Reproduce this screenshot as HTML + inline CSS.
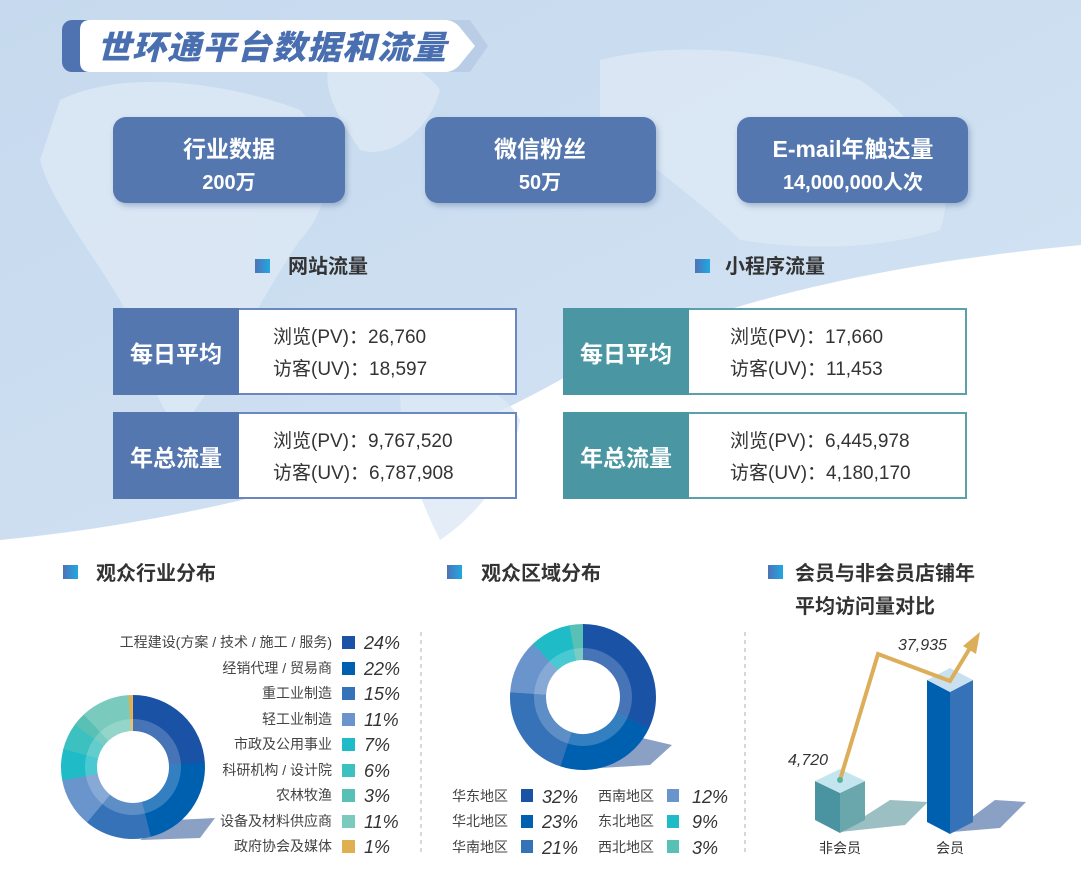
<!DOCTYPE html>
<html><head><meta charset="utf-8"><style>
body{margin:0;width:1081px;height:885px;overflow:hidden;background:#fff;font-family:"Liberation Sans","Noto Sans CJK SC",sans-serif}
</style></head><body>
<svg width="1081" height="885" viewBox="0 0 1081 885" xmlns="http://www.w3.org/2000/svg" font-family="Liberation Sans, Noto Sans CJK SC, sans-serif">
<defs>
<linearGradient id="bg" x1="0" y1="0" x2="1" y2="1"><stop offset="0" stop-color="#c6d9ee"/><stop offset="1" stop-color="#d3e4f3"/></linearGradient>
<linearGradient id="sq" x1="0" y1="0" x2="1" y2="0"><stop offset="0" stop-color="#4f72b8"/><stop offset="1" stop-color="#1fa9e0"/></linearGradient>
<filter id="sh" x="-10%" y="-10%" width="130%" height="140%"><feDropShadow dx="2" dy="3" stdDeviation="3" flood-color="#3a5a8a" flood-opacity="0.35"/></filter>
</defs>
<rect width="1081" height="885" fill="#fff"/>
<path d="M0 0H1081V245C900 262 700 300 560 380C400 470 200 520 0 540Z" fill="url(#bg)"/>
<g fill="#dde9f5" opacity="0.8">
<path d="M60 100C120 70 220 80 300 110C340 150 330 210 300 240C260 300 220 380 180 430C150 400 140 340 120 300C90 250 50 200 40 160Z"/>
<path d="M330 60C370 50 420 60 440 90C430 130 390 160 360 150C340 120 320 90 330 60Z"/>
<path d="M600 60C680 40 780 50 860 80C920 120 960 180 940 230C880 250 800 250 740 240C700 200 640 160 600 120Z"/>
<path d="M400 390C440 370 500 380 520 420C510 480 470 520 440 540C420 500 400 450 400 390Z"/>
</g>
<!-- title banner -->
<path d="M70 20H470L488 46L470 72H70Z" fill="#b9cde6"/>
<rect x="62" y="20" width="40" height="52" rx="10" fill="#4f72b0"/>
<path d="M90 20H445Q455 20 462 30L475 46L462 62Q455 72 445 72H90Q80 72 80 62V30Q80 20 90 20Z" fill="#fff"/>
<text x="97" y="59" font-size="33" font-weight="900" font-style="italic" fill="#4a6fb0" letter-spacing="1" textLength="350" lengthAdjust="spacingAndGlyphs">世环通平台数据和流量</text>
<!-- top boxes -->
<g filter="url(#sh)" fill="#5577b0">
<rect x="113" y="117" width="232" height="86" rx="13"/>
<rect x="425" y="117" width="231" height="86" rx="13"/>
<rect x="737" y="117" width="231" height="86" rx="13"/>
</g>
<g fill="#fff" font-weight="700" text-anchor="middle">
<text x="229" y="157" font-size="23">行业数据</text><text x="229" y="189" font-size="20">200万</text>
<text x="540" y="157" font-size="23">微信粉丝</text><text x="540" y="189" font-size="20">50万</text>
<text x="853" y="157" font-size="23">E-mail年触达量</text><text x="853" y="189" font-size="20">14,000,000人次</text>
</g>
<!-- section heads -->
<rect x="255" y="259" width="15" height="14" fill="url(#sq)"/>
<text x="288" y="273" font-size="20" font-weight="700" fill="#333">网站流量</text>
<rect x="695" y="259" width="15" height="14" fill="url(#sq)"/>
<text x="725" y="273" font-size="20" font-weight="700" fill="#333">小程序流量</text>
<!-- tables -->
<g font-size="19" fill="#333">
<rect x="238" y="309" width="278" height="85" fill="#fff" stroke="#6a88bf" stroke-width="2"/>
<rect x="113" y="308" width="126" height="87" fill="#5577b0"/>
<text x="176" y="362" font-size="23" font-weight="700" fill="#fff" text-anchor="middle">每日平均</text>
<text x="273" y="343">浏览(PV)：26,760</text><text x="273" y="375">访客(UV)：18,597</text>
<rect x="238" y="413" width="278" height="85" fill="#fff" stroke="#6a88bf" stroke-width="2"/>
<rect x="113" y="412" width="126" height="87" fill="#5577b0"/>
<text x="176" y="466" font-size="23" font-weight="700" fill="#fff" text-anchor="middle">年总流量</text>
<text x="273" y="447">浏览(PV)：9,767,520</text><text x="273" y="479">访客(UV)：6,787,908</text>
<rect x="688" y="309" width="278" height="85" fill="#fff" stroke="#5aa1ab" stroke-width="2"/>
<rect x="563" y="308" width="126" height="87" fill="#4a97a3"/>
<text x="626" y="362" font-size="23" font-weight="700" fill="#fff" text-anchor="middle">每日平均</text>
<text x="730" y="343">浏览(PV)：17,660</text><text x="730" y="375">访客(UV)：11,453</text>
<rect x="688" y="413" width="278" height="85" fill="#fff" stroke="#5aa1ab" stroke-width="2"/>
<rect x="563" y="412" width="126" height="87" fill="#4a97a3"/>
<text x="626" y="466" font-size="23" font-weight="700" fill="#fff" text-anchor="middle">年总流量</text>
<text x="730" y="447">浏览(PV)：6,445,978</text><text x="730" y="479">访客(UV)：4,180,170</text>
</g>
<!-- bottom heads -->
<rect x="63" y="565" width="15" height="14" fill="url(#sq)"/>
<text x="96" y="580" font-size="20" font-weight="700" fill="#333">观众行业分布</text>
<rect x="447" y="565" width="15" height="14" fill="url(#sq)"/>
<text x="481" y="580" font-size="20" font-weight="700" fill="#333">观众区域分布</text>
<rect x="768" y="565" width="15" height="14" fill="url(#sq)"/>
<text x="795" y="580" font-size="20" font-weight="700" fill="#333">会员与非会员店铺年</text>
<text x="795" y="613" font-size="20" font-weight="700" fill="#333">平均访问量对比</text>
<g stroke="#ccc" stroke-dasharray="4 4" stroke-width="1.5"><line x1="421" y1="632" x2="421" y2="855"/><line x1="745" y1="632" x2="745" y2="855"/></g>
<!-- donut 1 -->
<path d="M175 820L215 818L200 838L140 840Z" fill="#8aa0c4"/>
<g fill="none" stroke-width="36">
<circle cx="133" cy="767" r="54" pathLength="100" stroke="#1a52a5" stroke-dasharray="24.1 200" transform="rotate(-90 133 767)"/>
<circle cx="133" cy="767" r="54" pathLength="100" stroke="#0060b0" stroke-dasharray="22.1 200" transform="rotate(-3.6 133 767)"/>
<circle cx="133" cy="767" r="54" pathLength="100" stroke="#3672b8" stroke-dasharray="15.1 200" transform="rotate(75.6 133 767)"/>
<circle cx="133" cy="767" r="54" pathLength="100" stroke="#6a94cc" stroke-dasharray="11.1 200" transform="rotate(129.6 133 767)"/>
<circle cx="133" cy="767" r="54" pathLength="100" stroke="#1fbcc8" stroke-dasharray="7.1 200" transform="rotate(169.2 133 767)"/>
<circle cx="133" cy="767" r="54" pathLength="100" stroke="#3cc0c0" stroke-dasharray="6.1 200" transform="rotate(194.4 133 767)"/>
<circle cx="133" cy="767" r="54" pathLength="100" stroke="#58c0b4" stroke-dasharray="3.1 200" transform="rotate(216 133 767)"/>
<circle cx="133" cy="767" r="54" pathLength="100" stroke="#7acbbd" stroke-dasharray="11.1 200" transform="rotate(226.8 133 767)"/>
<circle cx="133" cy="767" r="54" pathLength="100" stroke="#e0b050" stroke-dasharray="1 200" transform="rotate(266.4 133 767)"/>
</g>
<circle cx="133" cy="767" r="42" fill="none" stroke="#fff" stroke-opacity="0.2" stroke-width="12"/>
<g font-size="14" fill="#444" text-anchor="end">
<text x="332" y="647">工程建设(方案 / 技术 / 施工 / 服务)</text><text x="332" y="673">经销代理 / 贸易商</text><text x="332" y="698">重工业制造</text><text x="332" y="724">轻工业制造</text><text x="332" y="749">市政及公用事业</text><text x="332" y="775">科研机构 / 设计院</text><text x="332" y="800">农林牧渔</text><text x="332" y="826">设备及材料供应商</text><text x="332" y="851">政府协会及媒体</text>
</g>
<g>
<rect x="342" y="636" width="13" height="13" fill="#1a52a5"/><rect x="342" y="662" width="13" height="13" fill="#0060b0"/><rect x="342" y="687" width="13" height="13" fill="#3672b8"/><rect x="342" y="713" width="13" height="13" fill="#6a94cc"/><rect x="342" y="738" width="13" height="13" fill="#1fbcc8"/><rect x="342" y="764" width="13" height="13" fill="#3cc0c0"/><rect x="342" y="789" width="13" height="13" fill="#58c0b4"/><rect x="342" y="815" width="13" height="13" fill="#7acbbd"/><rect x="342" y="840" width="13" height="13" fill="#e0b050"/>
</g>
<g font-size="18" font-style="italic" fill="#333">
<text x="364" y="649">24%</text><text x="364" y="675">22%</text><text x="364" y="700">15%</text><text x="364" y="726">11%</text><text x="364" y="751">7%</text><text x="364" y="777">6%</text><text x="364" y="802">3%</text><text x="364" y="828">11%</text><text x="364" y="853">1%</text>
</g>
<!-- donut 2 -->
<path d="M630 735L672 745L650 765L600 768Z" fill="#8aa0c4"/>
<g fill="none" stroke-width="36">
<circle cx="583" cy="697" r="55" pathLength="100" stroke="#1a52a5" stroke-dasharray="32.1 200" transform="rotate(-90 583 697)"/>
<circle cx="583" cy="697" r="55" pathLength="100" stroke="#0060b0" stroke-dasharray="23.1 200" transform="rotate(25.2 583 697)"/>
<circle cx="583" cy="697" r="55" pathLength="100" stroke="#3672b8" stroke-dasharray="21.1 200" transform="rotate(108 583 697)"/>
<circle cx="583" cy="697" r="55" pathLength="100" stroke="#6a94cc" stroke-dasharray="12.1 200" transform="rotate(183.6 583 697)"/>
<circle cx="583" cy="697" r="55" pathLength="100" stroke="#1fbcc8" stroke-dasharray="9.1 200" transform="rotate(226.8 583 697)"/>
<circle cx="583" cy="697" r="55" pathLength="100" stroke="#58c0b4" stroke-dasharray="3 200" transform="rotate(259.2 583 697)"/>
</g>
<circle cx="583" cy="697" r="43" fill="none" stroke="#fff" stroke-opacity="0.2" stroke-width="12"/>
<g font-size="14" fill="#444">
<text x="452" y="801">华东地区</text><text x="452" y="826">华北地区</text><text x="452" y="852">华南地区</text>
<text x="598" y="801">西南地区</text><text x="598" y="826">东北地区</text><text x="598" y="852">西北地区</text>
</g>
<rect x="521" y="789" width="12" height="13" fill="#1a52a5"/><rect x="521" y="815" width="12" height="13" fill="#0060b0"/><rect x="521" y="840" width="12" height="13" fill="#3672b8"/>
<rect x="667" y="789" width="12" height="13" fill="#6a94cc"/><rect x="667" y="815" width="12" height="13" fill="#1fbcc8"/><rect x="667" y="840" width="12" height="13" fill="#58c0b4"/>
<g font-size="18" font-style="italic" fill="#333">
<text x="542" y="803">32%</text><text x="542" y="828">23%</text><text x="542" y="854">21%</text>
<text x="692" y="803">12%</text><text x="692" y="828">9%</text><text x="692" y="854">3%</text>
</g>
<!-- bars -->
<path d="M840 832L890 800L928 802L905 825Z" fill="#9cbfc4"/>
<path d="M952 832L995 800L1026 802L1000 828Z" fill="#8aa0c4"/>
<path d="M815 781L840 793V833L815 820Z" fill="#4a93a0"/>
<path d="M840 793L865 781V820L840 833Z" fill="#6aa7ad"/>
<path d="M815 781L840 769L865 781L840 793Z" fill="#c3e6ee"/>
<path d="M927 680L950 692V834L927 822Z" fill="#0060b0"/>
<path d="M950 692L973 680V822L950 834Z" fill="#3672b8"/>
<path d="M927 680L950 668L973 680L950 692Z" fill="#c9e0f0"/>
<polyline points="840,780 878,654 950,681 970,648" fill="none" stroke="#dcae5a" stroke-width="4"/>
<path d="M980 632L963 646L976 654Z" fill="#dcae5a"/>
<circle cx="840" cy="780" r="3" fill="#5ab0a0"/>
<g font-size="16" font-style="italic" fill="#333"><text x="788" y="765">4,720</text><text x="898" y="650">37,935</text></g>
<g font-size="14" fill="#333" text-anchor="middle"><text x="840" y="853">非会员</text><text x="950" y="853">会员</text></g>
</svg>
</body></html>
